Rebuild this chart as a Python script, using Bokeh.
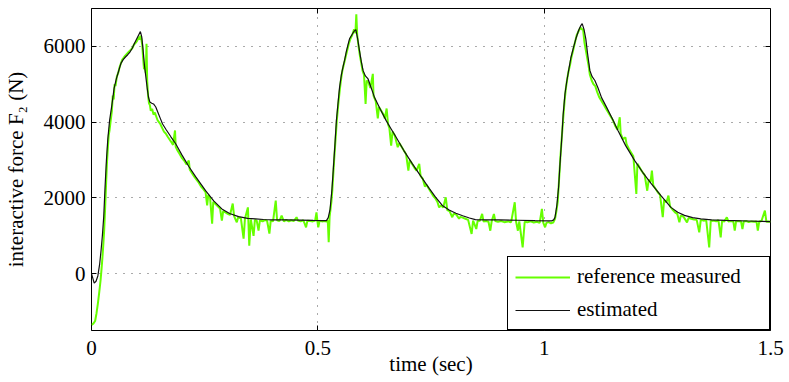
from bokeh.plotting import figure
from bokeh.models import Range1d, FixedTicker, LinearAxis, Legend, LegendItem, ColumnDataSource
from bokeh.embed import file_html
from bokeh.resources import INLINE

x_ticks = [0, 0.5, 1, 1.5]
x_tick_labels = ["0", "0.5", "1", "1.5"]
y_ticks = [0, 2000, 4000, 6000]
y_tick_labels = ["0", "2000", "4000", "6000"]

# estimated force (black)
est_time = [
    0.000, 0.006, 0.010, 0.014, 0.018, 0.021, 0.024, 0.027, 0.030, 0.033, 0.036,
    0.040, 0.045, 0.050, 0.055, 0.060, 0.065, 0.070, 0.075, 0.080, 0.085,
    0.090, 0.095, 0.100, 0.105, 0.108, 0.111, 0.114, 0.117, 0.120, 0.123,
    0.126, 0.129, 0.133, 0.137, 0.142, 0.147, 0.152, 0.157, 0.165, 0.175,
    0.186, 0.200, 0.215, 0.230, 0.252, 0.270, 0.288, 0.305, 0.325, 0.345,
    0.362, 0.380, 0.400, 0.430, 0.460, 0.490, 0.510, 0.519, 0.523, 0.527,
    0.531, 0.534, 0.538, 0.541, 0.545, 0.548, 0.552, 0.556, 0.559, 0.563,
    0.567, 0.570, 0.575, 0.580, 0.584, 0.588, 0.592, 0.596, 0.600, 0.605,
    0.611, 0.618, 0.625, 0.638, 0.651, 0.662, 0.673, 0.690, 0.709, 0.727,
    0.746, 0.760, 0.775, 0.790, 0.805, 0.820, 0.835, 0.848, 0.870, 0.900,
    0.940, 0.980, 1.010, 1.017, 1.021, 1.024, 1.028, 1.032, 1.035, 1.039,
    1.042, 1.046, 1.050, 1.054, 1.059, 1.065, 1.070, 1.076, 1.081, 1.084,
    1.088, 1.092, 1.096, 1.101, 1.106, 1.112, 1.119, 1.127, 1.138, 1.149,
    1.163, 1.180, 1.200, 1.218, 1.237, 1.258, 1.280, 1.295, 1.310, 1.328,
    1.346, 1.370, 1.400, 1.420, 1.450, 1.480, 1.500,
]
est_force = [
    0, -250, -200, -60, 250, 600, 1000, 1500, 2300, 3000, 3550,
    4050, 4450, 4900, 5150, 5350, 5550, 5650, 5720, 5780, 5850,
    5950, 6080, 6200, 6320, 6390, 6250, 5900, 5500, 5200, 4900,
    4650, 4530, 4500, 4480, 4400, 4250, 4100, 3950, 3800, 3620,
    3430, 3130, 2830, 2560, 2190, 1920, 1710, 1590, 1505, 1460,
    1445, 1430, 1420, 1420, 1415, 1405, 1400, 1400, 1480, 1700,
    2200, 2720, 3450, 4040, 4550, 4920, 5250, 5480, 5630, 5870,
    6060, 6200, 6300, 6400, 6440, 6200, 5890, 5600, 5360, 5220,
    5140, 4900, 4660, 4340, 4040, 3820, 3600, 3250, 2900, 2580,
    2250, 2020, 1800, 1680, 1595, 1530, 1470, 1425, 1420, 1420,
    1410, 1400, 1395, 1395, 1420, 1490, 1800, 2300, 2900, 3600,
    4200, 4750, 5080, 5360, 5700, 5980, 6200, 6420, 6550, 6600,
    6450, 6200, 5800, 5360, 5200, 5100, 4900, 4640, 4390, 4130,
    3780, 3380, 2985, 2670, 2370, 2060, 1750, 1620, 1540, 1480,
    1445, 1420, 1405, 1400, 1390, 1380, 1375,
]

# reference measured force (green)
meas_time = [
    0.000, 0.004, 0.008, 0.011, 0.014, 0.017, 0.020, 0.022, 0.024, 0.026,
    0.028, 0.030, 0.032, 0.034, 0.036, 0.038, 0.040, 0.042, 0.045, 0.047,
    0.049, 0.051, 0.053, 0.056, 0.059, 0.062, 0.065, 0.068, 0.071, 0.074,
    0.078, 0.082, 0.086, 0.090, 0.094, 0.098, 0.101, 0.104, 0.106, 0.108,
    0.110, 0.112, 0.114, 0.116, 0.118, 0.120, 0.1215, 0.123, 0.125, 0.127,
    0.129, 0.131, 0.134, 0.137, 0.140, 0.143, 0.146, 0.149, 0.152, 0.156,
    0.160, 0.164, 0.168, 0.172, 0.176, 0.180, 0.1845, 0.186, 0.190, 0.195,
    0.200, 0.205, 0.210, 0.215, 0.217, 0.222, 0.227, 0.232, 0.237, 0.242,
    0.247, 0.252, 0.2555, 0.258, 0.262, 0.2665, 0.269, 0.274, 0.279, 0.284,
    0.288, 0.291, 0.296, 0.301, 0.306, 0.312, 0.315, 0.321, 0.324, 0.330,
    0.336, 0.339, 0.3455, 0.3485, 0.352, 0.358, 0.361, 0.365, 0.369, 0.372,
    0.378, 0.384, 0.388, 0.393, 0.396, 0.401, 0.407, 0.410, 0.415, 0.420,
    0.425, 0.430, 0.436, 0.441, 0.447, 0.453, 0.456, 0.462, 0.468, 0.474,
    0.477, 0.483, 0.489, 0.494, 0.497, 0.499, 0.501, 0.504, 0.509, 0.514,
    0.519, 0.522, 0.524, 0.526, 0.528, 0.530, 0.532, 0.534, 0.536, 0.538,
    0.540, 0.542, 0.545, 0.548, 0.551, 0.554, 0.557, 0.560, 0.564, 0.568,
    0.572, 0.576, 0.580, 0.583, 0.585, 0.587, 0.590, 0.593, 0.596, 0.599,
    0.602, 0.6055, 0.608, 0.612, 0.616, 0.6215, 0.623, 0.628, 0.6325, 0.635,
    0.640, 0.645, 0.648, 0.652, 0.655, 0.658, 0.662, 0.665, 0.670, 0.6765,
    0.680, 0.685, 0.690, 0.695, 0.700, 0.703, 0.708, 0.713, 0.718, 0.724,
    0.727, 0.732, 0.7365, 0.740, 0.745, 0.750, 0.755, 0.760, 0.764, 0.768,
    0.772, 0.777, 0.7826, 0.786, 0.791, 0.797, 0.800, 0.806, 0.812, 0.815,
    0.820, 0.826, 0.832, 0.8397, 0.843, 0.850, 0.853, 0.858, 0.863, 0.866,
    0.872, 0.877, 0.881, 0.884, 0.889, 0.892, 0.898, 0.905, 0.912, 0.920,
    0.927, 0.935, 0.938, 0.942, 0.945, 0.9525, 0.957, 0.963, 0.970, 0.977,
    0.984, 0.990, 0.995, 0.998, 1.002, 1.005, 1.010, 1.015, 1.020, 1.024,
    1.027, 1.030, 1.033, 1.036, 1.039, 1.042, 1.045, 1.048, 1.051, 1.054,
    1.057, 1.060, 1.064, 1.068, 1.072, 1.076, 1.080, 1.083, 1.086, 1.089,
    1.092, 1.095, 1.098, 1.101, 1.105, 1.109, 1.113, 1.117, 1.122, 1.127,
    1.132, 1.137, 1.142, 1.147, 1.152, 1.157, 1.162, 1.167, 1.169, 1.174,
    1.1795, 1.182, 1.187, 1.192, 1.197, 1.2036, 1.206, 1.211, 1.216, 1.222,
    1.2277, 1.231, 1.235, 1.238, 1.241, 1.246, 1.251, 1.256, 1.262, 1.265,
    1.270, 1.2745, 1.278, 1.283, 1.289, 1.294, 1.2987, 1.302, 1.308, 1.3156,
    1.319, 1.325, 1.331, 1.337, 1.3426, 1.346, 1.352, 1.358, 1.3646, 1.368,
    1.374, 1.380, 1.385, 1.390, 1.393, 1.398, 1.4035, 1.407, 1.413, 1.418,
    1.421, 1.424, 1.430, 1.435, 1.438, 1.441, 1.447, 1.452, 1.458, 1.464,
    1.469, 1.472, 1.475, 1.480, 1.4876, 1.491, 1.496, 1.500,
]
meas_force = [
    -1350, -1320, -1250, -1050, -800, -500, -180, 100, 400, 750,
    1150, 1700, 2300, 2900, 3300, 3650, 3800, 4000, 4300, 4700,
    4600, 5000, 4950, 5200, 5300, 5450, 5550, 5650, 5700, 5750,
    5800, 5850, 5900, 5950, 6050, 6100, 6150, 6250, 6180, 6280,
    6200, 6050, 5700, 5400, 5450, 5300, 6070, 5100, 4700, 4500,
    4450, 4300, 4350, 4200, 4250, 4150, 4050, 4000, 3950, 3850,
    3750, 3700, 3620, 3550, 3480, 3400, 3780, 3350, 3250, 3150,
    3050, 2980, 2880, 2985, 2750, 2650, 2560, 2480, 2400, 2300,
    2230, 2150, 1800, 2080, 2000, 1320, 1900, 1840, 1780, 1720,
    1400, 1660, 1620, 1580, 1550, 1850, 1520, 1355, 1490, 1460,
    925, 1450, 1750, 740, 1430, 1000, 1420, 1400, 1135, 1410,
    1380, 1420, 1390, 1060, 1400, 1380, 1930, 1410, 1390, 1530,
    1380, 1420, 1380, 1410, 1390, 1490, 1400, 1380, 1410, 1225,
    1400, 1390, 1380, 1400, 1620, 1390, 1225, 1400, 1380, 1390,
    1380, 1400, 830, 1500, 1700, 1900, 2200, 2600, 3000, 3350,
    3700, 4050, 4450, 4800, 5100, 5350, 5500, 5650, 5850, 6050,
    6200, 6300, 6450, 6350, 6850, 6300, 6000, 5750, 5550, 5350,
    5250, 4480, 5100, 5050, 4900, 5275, 4700, 4550, 4100, 4400,
    4300, 4200, 4100, 4360, 3950, 3850, 3380, 3750, 3650, 3340,
    3450, 3350, 3250, 3150, 2720, 3000, 2900, 2800, 2720, 2900,
    2580, 2500, 2300, 2350, 2250, 2150, 2050, 1980, 1900, 1750,
    1800, 1750, 2015, 1680, 1650, 1490, 1580, 1560, 1450, 1500,
    1480, 1450, 1420, 1050, 1400, 1180, 1390, 1400, 1577, 1380,
    1390, 1370, 1135, 1380, 1577, 1390, 1370, 1390, 1360, 1380,
    1360, 1885, 1370, 1135, 1380, 695, 1370, 1360, 1380, 1350,
    1370, 1340, 1710, 1350, 1225, 1340, 1360, 1330, 1350, 1450,
    1650, 1900, 2500, 3100, 3600, 4100, 4550, 4900, 5150, 5350,
    5500, 5700, 5900, 6100, 6300, 6400, 6500, 6450, 6450, 6100,
    5900, 5700, 5500, 5250, 5100, 5000, 4950, 4800, 4650, 4550,
    4450, 4350, 4250, 4150, 4050, 3900, 3800, 4130, 3700, 3550,
    3600, 3420, 3300, 3200, 3100, 2105, 2900, 2800, 2700, 2600,
    2190, 2480, 2420, 2720, 2330, 2240, 2150, 2080, 1490, 1950,
    1880, 2060, 1780, 1700, 1620, 1580, 1355, 1540, 1500, 1355,
    1470, 1450, 1430, 1420, 1090, 1420, 1400, 1410, 695, 1390,
    1400, 1380, 1410, 960, 1390, 1380, 1490, 1380, 1390, 1370,
    1135, 1380, 1390, 1370, 1180, 1380, 1390, 1360, 1380, 1370,
    1380, 1135, 1370, 1390, 1665, 1370, 1380, 1370,
]
assert len(est_time) == len(est_force)
assert len(meas_time) == len(meas_force)

FONT_TICK = "Times New Roman"
FONT_YLAB = "serif"
FONT_XLAB = "'Liberation Serif'"
FONT_LEG = "Times"

p = figure(width=789, height=382, x_range=Range1d(0, 1.5), y_range=Range1d(-1500, 7000),
           output_backend="svg", toolbar_location=None,
           min_border_left=87, min_border_right=19, min_border_top=8, min_border_bottom=52)
p.background_fill_color = "white"
p.border_fill_color = "white"
p.outline_line_color = "black"
p.outline_line_width = 1
p.outline_line_alpha = 1

meas_src = ColumnDataSource(dict(t=meas_time, f=meas_force))
est_src = ColumnDataSource(dict(t=est_time, f=est_force))
g = p.line("t", "f", source=meas_src, line_color="#66ff00", line_width=2)
k = p.line("t", "f", source=est_src, line_color="#111111", line_width=1.2)

def style_axis(ax, ticks, labels, show_labels=True):
    ax.ticker = FixedTicker(ticks=ticks)
    ax.major_label_overrides = {t: l for t, l in zip(ticks, labels)}
    ax.major_tick_in = 5
    ax.major_tick_out = 0
    ax.minor_tick_in = 0
    ax.minor_tick_out = 0
    ax.major_tick_line_color = "black"
    ax.axis_line_color = None
    ax.major_label_text_font = FONT_TICK
    ax.major_label_text_color = "black"
    if show_labels:
        ax.major_label_text_font_size = "21px"
    else:
        ax.major_label_text_font_size = "0px"
        ax.major_label_standoff = 0

xa = p.xaxis[0]
style_axis(xa, x_ticks, x_tick_labels)
xa.major_label_standoff = 10
xa.axis_label = "time (sec)"
xa.axis_label_text_font = FONT_XLAB
xa.axis_label_text_font_size = "21px"
xa.axis_label_text_font_style = "normal"
xa.axis_label_text_color = "black"
xa.axis_label_standoff = -6

ya = p.yaxis[0]
style_axis(ya, y_ticks, y_tick_labels)
ya.major_label_standoff = 6
ya.axis_label = "interactive force F\u2082 (N)"
ya.axis_label_text_font = FONT_YLAB
ya.axis_label_text_font_size = "21px"
ya.axis_label_text_font_style = "normal"
ya.axis_label_text_color = "black"
ya.axis_label_standoff = 13

top = LinearAxis()
style_axis(top, x_ticks, ["" for _ in x_ticks], show_labels=False)
p.add_layout(top, "above")
right = LinearAxis()
style_axis(right, y_ticks, ["" for _ in y_ticks], show_labels=False)
p.add_layout(right, "right")

for grid, ticks in ((p.xgrid[0], x_ticks), (p.ygrid[0], y_ticks)):
    grid.ticker = FixedTicker(ticks=ticks)
    grid.grid_line_color = "#555555"
    grid.grid_line_dash = "1 7"
    grid.grid_line_width = 1

legend = Legend(items=[LegendItem(label="reference measured", renderers=[g]),
                       LegendItem(label="estimated", renderers=[k])],
                location="bottom_right", margin=0, padding=7, spacing=8,
                glyph_width=55, glyph_height=20, label_standoff=7, label_width=185,
                label_text_font=FONT_LEG, label_text_font_size="21px", label_text_color="black",
                border_line_color="black", border_line_width=1, border_line_alpha=1,
                background_fill_color="white", background_fill_alpha=1)
p.add_layout(legend)

open("out.html", "w").write(file_html(p, INLINE))
